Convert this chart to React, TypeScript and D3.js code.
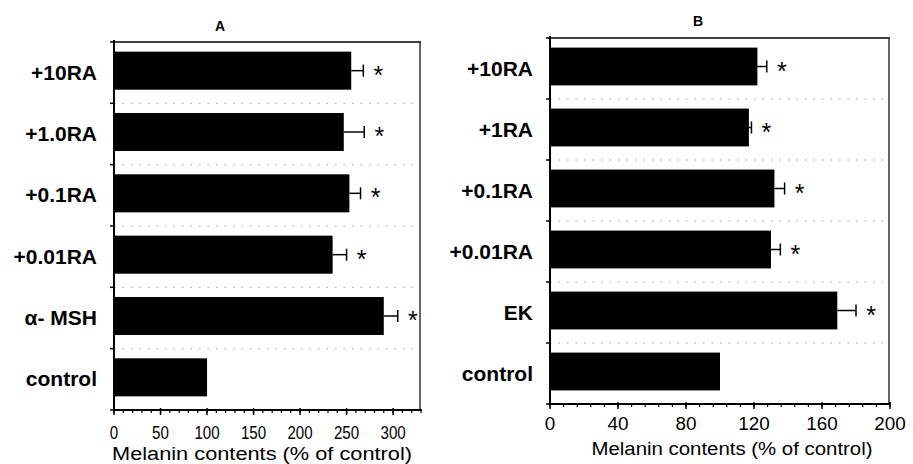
import * as d3 from "d3";

// panel A
const categoriesA = ["+10RA", "+1.0RA", "+0.1RA", "+0.01RA", "α- MSH", "control"];
const valuesA = [255, 247, 253, 235, 290, 100];
const errorsA = [13, 22, 12, 15, 15, 0];
const starsA = [true, true, true, true, true, false];
const ticksA = [0, 50, 100, 150, 200, 250, 300];

// panel B
const categoriesB = ["+10RA", "+1RA", "+0.1RA", "+0.01RA", "EK", "control"];
const valuesB = [122, 117, 132, 130, 169, 100];
const errorsB = [5.5, 1.5, 6, 5.5, 11, 0];
const starsB = [true, true, true, true, true, false];
const ticksB = [0, 40, 80, 120, 160, 200];

const axisTitle = "Melanin contents (% of control)";

type PanelProps = {
  title: string;
  categories: string[];
  values: number[];
  errors: number[];
  stars: boolean[];
  ticks: number[];
  xmax: number;
  minorStep: number;
  left: number;
  right: number;
  top: number;
  bottom: number;
  titleX: number;
  titleY: number;
  axisTitleX: number;
  axisTitleY: number;
  axisTitleLen: number;
  tickDy: number;
  digitW: number;
};

function Panel(p: PanelProps) {
  const x = d3.scaleLinear().domain([0, p.xmax]).range([p.left, p.right]);
  const y = d3.scaleBand<string>()
    .domain(p.categories)
    .range([p.top, p.bottom])
    .paddingInner(0.38)
    .paddingOuter(0.19);
  const step = y.step();
  const bounds = d3.range(p.categories.length + 1).map(i => p.top + i * step);
  const minor = d3.range(0, p.xmax + 0.001, p.minorStep);
  const font = "'Liberation Sans', Arial, Helvetica, sans-serif";

  return (
    <g>
      <text x={p.titleX} y={p.titleY} dy="0.36em" textAnchor="middle"
        fontFamily={font} fontWeight="bold" fontSize={14}>{p.title}</text>

      {/* dotted gridlines between categories */}
      {bounds.slice(1, -1).map((b, i) => (
        <line key={"g" + i} x1={p.left} x2={p.right - 4} y1={b} y2={b}
          stroke="#a0a0a0" strokeWidth={1} strokeDasharray="1.5,7" />
      ))}

      {/* frame */}
      <line x1={p.left} x2={p.right} y1={p.top} y2={p.top} stroke="#000" strokeWidth={1.3} />
      <line x1={p.right - 1} x2={p.right - 1} y1={p.top} y2={p.bottom} stroke="#333" strokeWidth={1.5} />

      {/* bars */}
      {p.categories.map((c, i) => {
        const yc = (y(c) as number) + y.bandwidth() / 2 - 2;
        const x0 = x(p.values[i]);
        const x1 = x(p.values[i] + p.errors[i]);
        return (
          <g key={c}>
            <rect x={x(0)} y={(y(c) as number) - 2} width={x0 - x(0)} height={y.bandwidth()} fill="#000" />
            {p.errors[i] > 0 && (
              <g stroke="#000" strokeWidth={1.5}>
                <line x1={x0} x2={x1} y1={yc} y2={yc} />
                <line x1={x1} x2={x1} y1={yc - 6} y2={yc + 6} />
              </g>
            )}
            {p.stars[i] && (
              <text x={x1 + 15} y={yc + 13} textAnchor="middle" fontFamily={font}
                fontSize={25}>*</text>
            )}
            <text x={p.left - 17} y={yc + 9} textAnchor="end" fontFamily={font}
              fontWeight="bold" fontSize={21}>{c}</text>
          </g>
        );
      })}

      {/* left axis */}
      <line x1={p.left} x2={p.left} y1={p.top - 2} y2={p.bottom} stroke="#000" strokeWidth={2} />
      {bounds.map((b, i) => (
        <line key={"l" + i} x1={p.left - 4} x2={p.left + 1} y1={b} y2={b} stroke="#000" strokeWidth={1.5} />
      ))}

      {/* bottom axis */}
      <line x1={p.left} x2={p.right + 1} y1={p.bottom} y2={p.bottom} stroke="#000" strokeWidth={2} />
      {minor.map((m, i) => (
        <line key={"m" + i} x1={x(m)} x2={x(m)} y1={p.bottom} y2={p.bottom + 3} stroke="#000" strokeWidth={1.2} />
      ))}
      {p.ticks.map(t => (
        <g key={"t" + t}>
          <line x1={x(t)} x2={x(t)} y1={p.bottom - 2} y2={p.bottom + 5} stroke="#000" strokeWidth={1.5} />
          <text x={x(t)} y={p.bottom + p.tickDy} dy="0.36em" textAnchor="middle"
            fontFamily={font} fontSize={18}
            textLength={String(t).length * p.digitW} lengthAdjust="spacingAndGlyphs">{t}</text>
        </g>
      ))}
      <text x={p.axisTitleX} y={p.axisTitleY} textAnchor="middle"
        fontFamily={font} fontSize={18}
        textLength={p.axisTitleLen} lengthAdjust="spacingAndGlyphs">{axisTitle}</text>
    </g>
  );
}

export default function App() {
  return (
    <svg width={913} height={464} style={{ position: "absolute", left: 0, top: 0, background: "#fff" }}>
      <rect width={913} height={464} fill="#fff" />
      <Panel title="A" categories={categoriesA} values={valuesA} errors={errorsA} stars={starsA}
        ticks={ticksA} xmax={330} minorStep={10}
        left={114} right={421} top={42} bottom={410}
        titleX={220} titleY={26} axisTitleX={262} axisTitleY={460} axisTitleLen={300}
        tickDy={23} digitW={8.4} />
      <Panel title="B" categories={categoriesB} values={valuesB} errors={errorsB} stars={starsB}
        ticks={ticksB} xmax={200} minorStep={8}
        left={550} right={890} top={38} bottom={404}
        titleX={698} titleY={21} axisTitleX={732} axisTitleY={455} axisTitleLen={281}
        tickDy={20} digitW={10.5} />
    </svg>
  );
}
